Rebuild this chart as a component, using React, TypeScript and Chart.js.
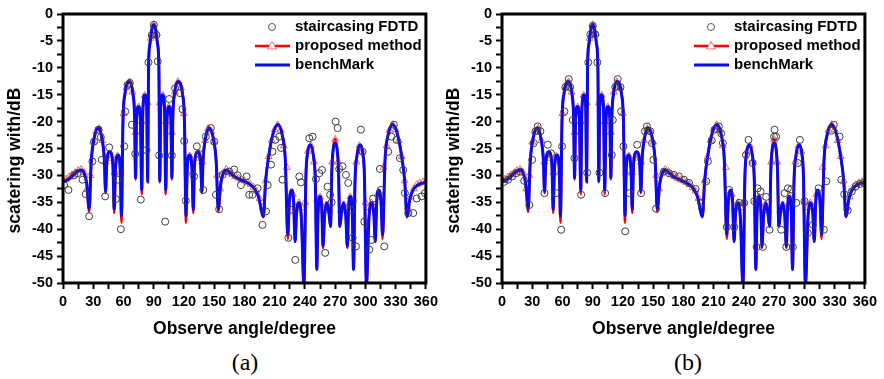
import React, { useEffect, useRef } from 'react';
import { Chart, registerables } from 'chart.js';

Chart.register(...registerables);

// ---------- data ----------
const SERIES_LABELS = ['staircasing FDTD', 'proposed method', 'benchMark'];
const X_TITLE = 'Observe angle/degree';
const Y_TITLE = 'scatering with/dB';
const PANEL_LABELS = ['(a)', '(b)'];
const X_TICKS = [0, 30, 60, 90, 120, 150, 180, 210, 240, 270, 300, 330, 360];
const Y_TICKS = [0, -5, -10, -15, -20, -25, -30, -35, -40, -45, -50];

// benchmark / proposed curve (angle in degree, value in dB)
const ANGLES = [
  0, 5, 10, 14, 18, 21, 23.5, 26, 28, 31, 35.4, 39, 41, 42.2, 43.5, 46.5, 49.5, 50.8, 52, 54.6,
  56.8, 58, 59.5, 61.5, 66, 69.5, 71, 72, 73, 74.8, 76.8, 78.1, 79.3, 81.3, 83, 84, 84.9, 86.3, 88, 90,
  92, 93.7, 95.1, 96, 97, 98.7, 100.7, 101.9, 103.2, 105.2, 107, 108, 109, 110.5, 114, 118.5, 120.5, 122, 123.2, 125.4,
  128, 129.2, 130.5, 133.5, 136.5, 137.8, 139, 141, 144.6, 149, 152, 154, 156.5, 159, 162, 166, 170, 175, 180, 185,
  190, 194, 198.8, 201, 204, 208, 213, 217.5, 220.5, 223, 224.5, 227, 228.8, 230.2, 231.7, 234, 236.5, 239, 241, 242.5,
  245.2, 248.5, 250.3, 251.8, 253, 255.1, 256.8, 257.9, 259.5, 261.8, 263.8, 265.4, 266.7, 268, 270, 272, 273.3, 274.6, 276.2, 278.2,
  280.5, 282.1, 283.2, 284.9, 287, 288.2, 289.7, 291.5, 294.8, 297.5, 299, 301, 303.5, 306, 308.3, 309.8, 311.2, 313, 315.5, 317,
  319.5, 322.5, 327, 332, 336, 339, 341.2, 344, 347, 351, 355, 360
];
const BENCHMARK = [
  -31.2, -30.8, -30.0, -29.3, -29.0, -29.6, -31.5, -36.2, -27.5, -23.0, -21.2, -23.5, -27.0, -33.0, -27.5, -25.6, -28.0, -36.3, -29.0, -26.2,
  -29.0, -37.5, -20.0, -14.8, -12.6, -15.0, -19.0, -30.5, -19.5, -17.2, -19.5, -32.7, -17.5, -15.0, -17.0, -31.1, -9.5, -5.5, -3.0, -2.0,
  -3.0, -5.5, -9.5, -31.1, -17.0, -15.0, -17.5, -32.7, -19.5, -17.2, -19.5, -30.5, -19.0, -15.0, -12.6, -14.8, -20.0, -37.5, -29.0, -26.2,
  -29.0, -36.3, -28.0, -25.6, -27.5, -33.0, -27.0, -23.5, -21.2, -23.0, -27.5, -36.2, -31.5, -29.6, -29.0, -29.6, -30.2, -30.7, -31.1, -31.6,
  -32.5, -34.0, -37.6, -31.0, -26.5, -22.5, -20.6, -22.5, -27.0, -41.0, -35.0, -32.7, -35.0, -42.3, -37.0, -35.1, -38.0, -50.5, -30.0, -26.0,
  -24.3, -26.5, -31.0, -47.5, -37.0, -33.9, -36.5, -43.2, -37.5, -35.1, -37.0, -39.5, -29.0, -25.3, -24.0, -25.3, -29.0, -39.5, -37.0, -35.1,
  -37.5, -43.2, -36.5, -33.9, -37.0, -47.5, -31.0, -26.5, -24.3, -26.0, -30.0, -50.5, -38.0, -35.1, -37.0, -42.3, -35.0, -32.7, -35.0, -41.0,
  -27.0, -22.5, -20.6, -22.5, -26.5, -31.0, -37.6, -34.5, -32.8, -31.9, -31.5, -31.3
];
const PROPOSED = [
  -31.0, -30.6, -29.8, -29.2, -29.0, -29.6, -31.5, -36.8, -27.5, -23.0, -21.0, -23.5, -27.0, -33.3, -27.5, -25.6, -28.0, -37.0, -29.0, -26.2,
  -29.0, -38.8, -20.0, -14.8, -12.4, -15.0, -19.0, -30.8, -19.5, -17.2, -19.5, -33.5, -17.5, -15.0, -17.0, -31.3, -9.5, -5.5, -3.0, -1.8,
  -3.0, -5.5, -9.5, -31.3, -17.0, -15.0, -17.5, -33.5, -19.5, -17.2, -19.5, -30.8, -19.0, -15.0, -12.4, -14.8, -20.0, -38.8, -29.0, -26.2,
  -29.0, -37.0, -28.0, -25.6, -27.5, -33.3, -27.0, -23.5, -21.0, -23.0, -27.5, -36.8, -31.5, -29.6, -29.0, -29.6, -30.2, -30.7, -31.1, -31.6,
  -32.5, -34.0, -37.8, -31.0, -26.5, -22.5, -20.4, -22.5, -27.0, -41.8, -35.0, -32.7, -35.0, -42.3, -37.0, -35.1, -38.0, -50.5, -30.0, -26.0,
  -24.3, -26.5, -31.0, -47.5, -37.0, -33.9, -36.5, -43.5, -37.5, -35.1, -37.0, -39.5, -29.0, -25.0, -23.2, -25.0, -29.0, -39.5, -37.0, -35.1,
  -37.5, -43.5, -36.5, -33.9, -37.0, -47.5, -31.0, -26.5, -24.3, -26.0, -30.0, -50.5, -38.0, -35.1, -37.0, -42.3, -35.0, -32.7, -35.0, -41.8,
  -27.0, -22.5, -20.4, -22.5, -26.5, -31.0, -37.8, -34.5, -32.8, -31.9, -31.5, -31.3
];

// proposed method markers
const TRI_ANGLES = [
  0, 3, 6, 9, 12, 15, 18, 21, 24, 27, 30, 33, 36, 39, 42, 45, 48, 51, 54, 57,
  60, 63, 66, 69, 72, 75, 78, 81, 84, 87, 90, 93, 96, 99, 102, 105, 108, 111, 114, 117,
  120, 123, 126, 129, 132, 135, 138, 141, 144, 147, 150, 153, 156, 159, 162, 165, 168, 171, 174, 177,
  180, 183, 186, 189, 192, 195, 198, 201, 204, 207, 210, 213, 216, 219, 222, 225, 228, 231, 234, 237,
  240, 243, 246, 249, 252, 255, 258, 261, 264, 267, 270, 273, 276, 279, 282, 285, 288, 291, 294, 297,
  300, 303, 306, 309, 312, 315, 318, 321, 324, 327, 330, 333, 336, 339, 342, 345, 348, 351, 354, 357, 360
];
const TRI_VALUES = [
  -30.9, -30.7, -30.3, -29.9, -29.5, -29.1, -28.9, -29.5, -32.5, -30.0, -23.8, -21.8, -21.3, -23.5, -27.5, -26.2, -26.8, -29.5, -26.4, -29.5,
  -18.5, -13.7, -12.6, -14.5, -22.0, -17.3, -20.0, -15.1, -16.5, -4.5, -2.0, -3.6, -16.5, -15.1, -20.0, -17.3, -22.0, -14.5, -12.6, -13.7,
  -18.5, -29.5, -26.4, -29.5, -26.8, -26.2, -27.5, -23.5, -21.3, -21.8, -23.8, -30.0, -32.5, -29.5, -28.9, -29.3, -29.8, -30.2, -30.5, -30.8,
  -31.0, -31.3, -31.7, -32.2, -32.9, -34.3, -36.0, -31.0, -26.5, -23.5, -21.5, -20.6, -21.6, -24.5, -28.5, -34.0, -33.5, -36.0, -35.1, -36.0,
  -35.0, -25.5, -24.5, -27.5, -34.5, -34.0, -36.0, -35.5, -36.5, -27.5, -23.3, -27.5, -36.5, -35.5, -36.0, -34.0, -34.5, -27.5, -24.5, -25.5,
  -35.0, -36.0, -35.1, -36.0, -33.5, -34.0, -28.5, -24.5, -21.6, -20.6, -21.5, -23.5, -26.5, -31.0, -36.0, -34.0, -32.5, -31.7, -31.4, -31.2, -31.1
];

// staircasing FDTD, panel (a)
const FDTD_A_ANGLES = [
  1.1, 5.4, 11, 14.4, 19.4, 22.6, 25.9, 29.2, 30.9, 35.2, 37.5, 38.5, 41.8, 45.8, 52.4, 54.1, 57.4, 60.7, 61.7, 64,
  66.3, 68.3, 71.6, 77.2, 82.8, 84.8, 88.1, 90.1, 92.7, 94, 95.4, 101.4, 105.3, 108, 111.2, 115.9, 118.5, 120.2, 121.8, 130.1,
  132.8, 135.1, 139.1, 141.7, 146.7, 150, 151.7, 154.9, 158.2, 164.9, 169.8, 173.2, 176.5, 182.1, 184.7, 188, 193, 197.9, 201.4, 203,
  206.4, 207.9, 210.6, 214.5, 216.2, 217.8, 223.6, 226.2, 230.4, 234.4, 236, 244.3, 247.6, 250.9, 254.2, 256.9, 260.1, 262.4, 265, 266.5,
  270.4, 272.4, 274, 277.3, 280.7, 283, 285.6, 287.3, 290.6, 295.5, 297.2, 298.9, 303.8, 305.9, 307.6, 314.3, 315.4, 318.7, 322.6, 325.9,
  328.2, 330.9, 334.2, 337.5, 339.2, 342.5, 347.4, 350.8, 355.7, 359
];
const FDTD_A_VALUES = [
  -31.8, -32.7, -30.0, -29.6, -30.8, -33.5, -37.6, -27.4, -23.7, -21.5, -22.9, -27.1, -33.9, -24.8, -34.4, -30.8, -40.0, -24.6, -18.1, -13.2,
  -12.8, -20.6, -26.0, -34.5, -25.3, -9.0, -3.9, -2.0, -3.9, -8.8, -26.3, -38.6, -15.8, -26.3, -13.8, -14.7, -17.7, -23.6, -34.7, -30.2,
  -24.6, -26.0, -32.7, -22.8, -21.2, -23.7, -33.6, -36.3, -29.9, -29.3, -28.9, -30.0, -31.8, -30.2, -33.6, -33.6, -32.4, -39.2, -36.7, -31.8,
  -28.0, -25.6, -23.4, -22.8, -24.9, -30.8, -41.6, -36.4, -45.7, -30.2, -31.3, -23.1, -22.8, -30.7, -29.6, -29.0, -44.4, -32.1, -33.6, -35.0,
  -20.0, -21.2, -28.8, -28.3, -29.9, -31.4, -36.4, -41.6, -43.2, -21.5, -25.6, -38.6, -43.8, -42.0, -34.3, -28.8, -32.7, -43.2, -25.6, -22.8,
  -20.6, -23.4, -26.8, -29.0, -33.3, -37.0, -37.0, -34.3, -33.9, -33.3
];

// staircasing FDTD, panel (b)
const FDTD_B_ANGLES = [
  2, 6, 10, 14, 18, 22, 27.2, 29.9, 31.5, 33.2, 35.4, 38.1, 42.1, 45.4, 48.7, 53.7, 58.7, 59.6, 61.9, 62.9,
  66.2, 67.6, 70.2, 71.9, 78.5, 84.5, 85.6, 87.6, 90, 92.6, 94.6, 96.7, 102.3, 108.9, 109.9, 112.4, 114.8, 117.5, 118.2, 120.4,
  122.2, 126.5, 134.1, 138, 141.8, 143.8, 147.2, 148.8, 150.2, 152.8, 160.6, 165.6, 170.5, 175.5, 180.5, 185.5, 192, 197.6, 202.6, 204.2,
  208, 210.8, 215.1, 217.5, 219.1, 223, 225.4, 230.4, 235.3, 240.3, 242, 244.5, 248.6, 250.3, 252.6, 253.6, 256.5, 258.8, 262, 265.4,
  269.9, 270.4, 271.9, 277, 280.3, 282, 283.6, 286.9, 288.6, 291.9, 293.5, 295.5, 300.1, 303.4, 308.4, 314, 319.3, 321.7, 326.6, 329.2,
  334.9, 336.6, 339.5, 343, 347, 351, 355, 359
];
const FDTD_B_VALUES = [
  -31.2, -30.8, -30.2, -29.6, -29.3, -31.0, -35.5, -27.1, -24.0, -21.8, -20.9, -21.8, -33.3, -24.3, -25.9, -33.3, -40.1, -24.6, -18.1, -13.6,
  -12.1, -13.6, -19.7, -26.8, -33.6, -29.5, -9.0, -3.8, -2.2, -3.8, -9.0, -29.5, -33.3, -26.2, -19.7, -13.6, -12.1, -13.6, -18.1, -24.6,
  -40.4, -33.3, -24.3, -33.3, -21.8, -20.9, -21.8, -24.0, -27.1, -36.2, -29.3, -29.6, -29.9, -30.2, -30.8, -31.4, -32.5, -35.1, -31.1, -27.4,
  -23.5, -21.5, -20.9, -22.2, -24.0, -39.6, -32.7, -39.6, -35.1, -35.1, -26.2, -23.4, -27.7, -34.8, -43.3, -32.4, -33.0, -43.3, -34.0, -40.1,
  -22.8, -21.5, -22.8, -40.1, -33.3, -43.3, -32.4, -32.6, -43.3, -35.1, -27.7, -23.4, -34.8, -40.7, -39.2, -32.4, -40.1, -31.1, -21.7, -20.6,
  -22.8, -30.8, -33.5, -36.5, -33.0, -32.0, -31.6, -31.4
];

// ---------- styles ----------
const FONT = 'Arial, "Liberation Sans", sans-serif';
const BLUE = '#0a0af2';
const RED = '#ff0000';
const TRI_COLOR = '#e86a6a';
const CIRCLE_COLOR = '#3c3c3c';

const toPoints = (xs: number[], ys: number[]) => xs.map((x, i) => ({ x, y: ys[i] }));

const framePlugin = {
  id: 'frame',
  afterDatasetsDraw(chart: any) {
    const { ctx, chartArea: a } = chart;
    ctx.save();
    ctx.strokeStyle = '#000';
    ctx.lineWidth = 3;
    ctx.strokeRect(a.left, a.top, a.right - a.left, a.bottom - a.top);
    ctx.restore();
  },
};

const decorPlugin = {
  id: 'decor',
  afterDraw(chart: any) {
    const { ctx, chartArea: a } = chart;
    ctx.save();
    // y title
    ctx.translate(15, 160.5);
    ctx.rotate(-Math.PI / 2);
    ctx.font = `bold 17.5px ${FONT}`;
    ctx.fillStyle = '#000';
    ctx.textAlign = 'center';
    ctx.textBaseline = 'middle';
    ctx.fillText(Y_TITLE, 0, 0);
    ctx.restore();

    // legend
    ctx.save();
    const symX = a.left + 209;
    const x1 = a.left + 192;
    const x2 = a.left + 227;
    const textX = a.left + 232;
    const rows = [a.top + 13, a.top + 32, a.top + 51];
    ctx.strokeStyle = '#555';
    ctx.lineWidth = 1;
    ctx.beginPath();
    ctx.arc(symX, rows[0], 3.5, 0, Math.PI * 2);
    ctx.stroke();
    ctx.strokeStyle = RED;
    ctx.lineWidth = 2.5;
    ctx.beginPath();
    ctx.moveTo(x1, rows[1]);
    ctx.lineTo(x2, rows[1]);
    ctx.stroke();
    ctx.fillStyle = '#fff';
    ctx.strokeStyle = TRI_COLOR;
    ctx.lineWidth = 1;
    ctx.beginPath();
    ctx.moveTo(symX, rows[1] - 4.5);
    ctx.lineTo(symX - 4.5, rows[1] + 3);
    ctx.lineTo(symX + 4.5, rows[1] + 3);
    ctx.closePath();
    ctx.fill();
    ctx.stroke();
    ctx.strokeStyle = BLUE;
    ctx.lineWidth = 3;
    ctx.beginPath();
    ctx.moveTo(x1, rows[2]);
    ctx.lineTo(x2, rows[2]);
    ctx.stroke();
    ctx.fillStyle = '#000';
    ctx.font = `bold 15px ${FONT}`;
    ctx.textAlign = 'left';
    ctx.textBaseline = 'middle';
    SERIES_LABELS.forEach((t, i) => ctx.fillText(t, textX, rows[i]));
    ctx.restore();
  },
};

function Panel({ left, fdtdX, fdtdY, label, labelX }: { left: number; fdtdX: number[]; fdtdY: number[]; label: string; labelX: number }) {
  const ref = useRef<HTMLCanvasElement>(null);
  useEffect(() => {
    const tickFont = { family: FONT, size: 14.5, weight: 'bold' as const };
    const grid = {
      display: true,
      drawOnChartArea: false,
      drawTicks: true,
      tickLength: 6,
      tickWidth: 2,
      tickColor: '#000',
    };
    const chart = new Chart(ref.current as HTMLCanvasElement, {
      type: 'line',
      data: {
        datasets: [
          {
            label: SERIES_LABELS[0],
            data: toPoints(fdtdX, fdtdY),
            showLine: false,
            pointStyle: 'circle',
            pointRadius: 3.5,
            pointBorderWidth: 1,
            pointBorderColor: CIRCLE_COLOR,
            pointBackgroundColor: 'rgba(0,0,0,0)',
            borderColor: CIRCLE_COLOR,
            order: 0,
          },
          {
            label: SERIES_LABELS[2],
            data: toPoints(ANGLES, BENCHMARK),
            borderColor: BLUE,
            borderWidth: 3,
            pointRadius: 0,
            cubicInterpolationMode: 'monotone',
            order: 1,
          },
          {
            label: SERIES_LABELS[1] + ' markers',
            data: toPoints(TRI_ANGLES, TRI_VALUES),
            showLine: false,
            pointStyle: 'triangle',
            pointRadius: 4,
            pointBorderWidth: 1,
            pointBorderColor: TRI_COLOR,
            pointBackgroundColor: 'rgba(0,0,0,0)',
            borderColor: TRI_COLOR,
            order: 2,
          },
          {
            label: SERIES_LABELS[1],
            data: toPoints(ANGLES, PROPOSED),
            borderColor: RED,
            borderWidth: 2.5,
            pointRadius: 0,
            cubicInterpolationMode: 'monotone',
            order: 3,
          },
        ],
      } as any,
      options: {
        animation: false,
        responsive: false,
        devicePixelRatio: 1,
        events: [],
        layout: { padding: { left: 0, right: 16, top: 14, bottom: 0 } },
        plugins: { legend: { display: false }, tooltip: { enabled: false } },
        scales: {
          x: {
            type: 'linear',
            min: 0,
            max: 360,
            afterFit: (s: any) => { s.height = 62; },
            ticks: {
              stepSize: 15,
              autoSkip: false,
              maxRotation: 0,
              minRotation: 0,
              padding: 4,
              color: '#000',
              font: tickFont,
              callback: (v: any) => (X_TICKS.includes(Number(v)) ? String(v) : ''),
            },
            grid,
            border: { display: false },
            title: {
              display: true,
              text: X_TITLE,
              color: '#000',
              font: { family: FONT, size: 17.5, weight: 'bold' },
              padding: { top: 0, bottom: 5 },
            },
          },
          y: {
            type: 'linear',
            min: -50,
            max: 0,
            afterFit: (s: any) => { s.width = 63; },
            ticks: {
              stepSize: 2.5,
              autoSkip: false,
              padding: 4,
              color: '#000',
              font: tickFont,
              callback: (v: any) => (Y_TICKS.includes(Number(v)) ? String(v) : ''),
            },
            grid,
            border: { display: false },
          },
        },
      } as any,
      plugins: [framePlugin, decorPlugin],
    });
    return () => chart.destroy();
  }, []);
  return (
    <>
      <canvas
        ref={ref}
        width={442}
        height={345}
        style={{ position: 'absolute', left, top: 0, width: 442, height: 345 }}
      />
      <div
        style={{
          position: 'absolute',
          left: labelX,
          top: 350,
          transform: 'translateX(-50%)',
          fontFamily: '"Times New Roman", "Liberation Serif", serif',
          fontSize: 24,
          lineHeight: '24px',
          color: '#000',
          whiteSpace: 'nowrap',
        }}
      >
        {label}
      </div>
    </>
  );
}

export default function App() {
  return (
    <div style={{ position: 'absolute', left: 0, top: 0, width: 884, height: 379, background: '#fff', overflow: 'hidden' }}>
      <Panel left={0} fdtdX={FDTD_A_ANGLES} fdtdY={FDTD_A_VALUES} label={PANEL_LABELS[0]} labelX={245} />
      <Panel left={439} fdtdX={FDTD_B_ANGLES} fdtdY={FDTD_B_VALUES} label={PANEL_LABELS[1]} labelX={688} />
    </div>
  );
}
